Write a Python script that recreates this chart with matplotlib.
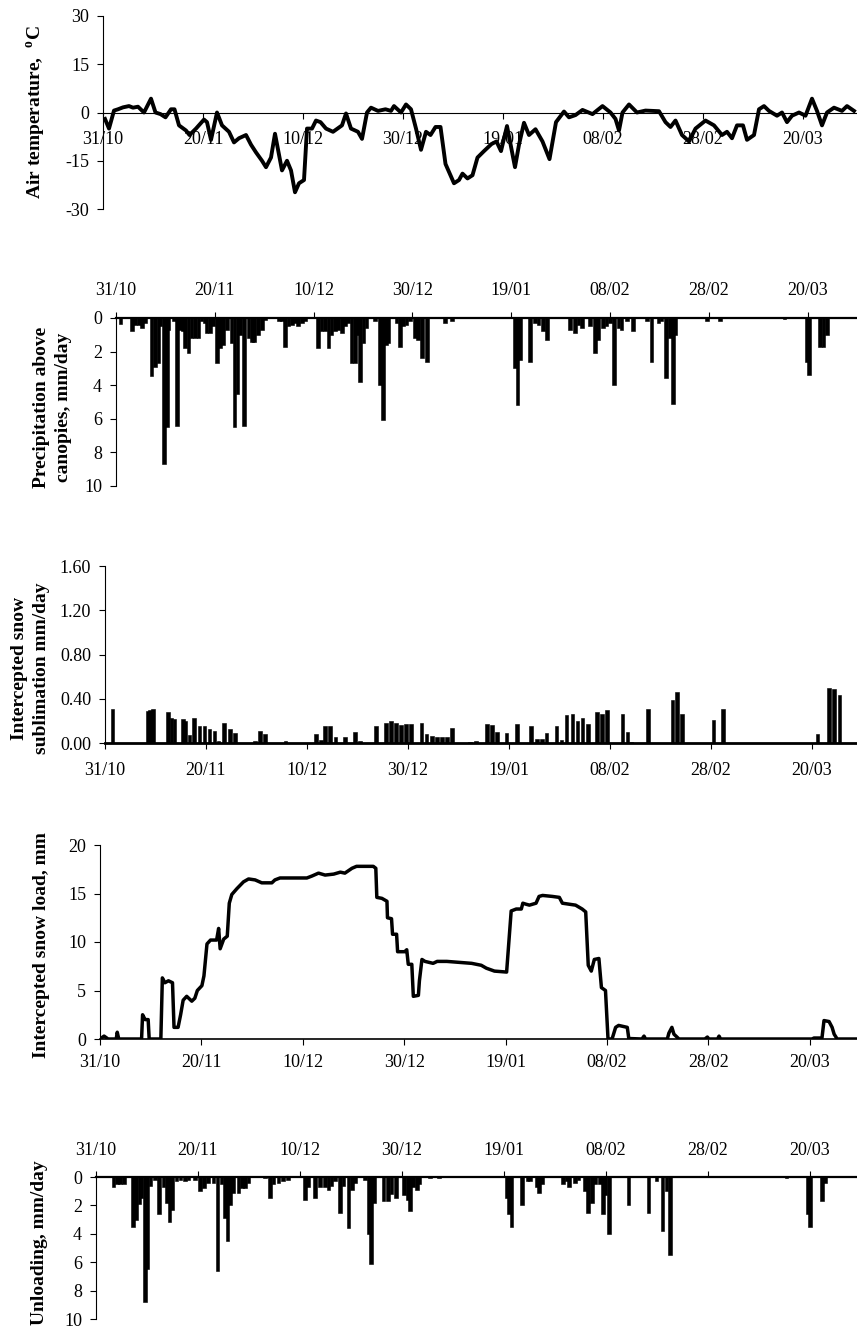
import matplotlib
matplotlib.use("Agg")
import matplotlib.pyplot as plt

plt.rcParams['font.family'] = ['Liberation Serif', 'DejaVu Serif']
plt.rcParams['axes.unicode_minus'] = False
plt.rcParams['mathtext.fontset'] = 'custom'
plt.rcParams['mathtext.rm'] = 'Liberation Serif:bold'

# ---------------- data ----------------
tick_days = [0, 20, 40, 60, 80, 100, 120, 140]
tick_labels = ['31/10', '20/11', '10/12', '30/12', '19/01', '08/02', '28/02', '20/03']

temp_day = [0.4, 1.2, 2.2, 3.0, 4.0, 5.2, 6.0, 7.0, 8.2, 9.6, 10.5, 11.5, 12.5, 13.6, 14.3,
            15.2, 16.6, 17.3, 18.6, 20.2, 20.8, 21.6, 22.8, 23.8, 25.2, 26.2, 27.2, 28.6,
            29.6, 30.6, 31.8, 32.6, 33.6, 34.4, 35.3, 35.8, 36.8, 37.6, 38.4, 39.2, 40.2,
            40.8, 41.8, 42.6, 43.5, 44.6, 46.0, 47.8, 48.6, 49.6, 51.0, 51.8, 52.8, 53.6,
            55.0, 56.5, 57.6, 58.2, 59.6, 60.6, 61.6, 62.6, 63.6, 64.6, 65.5, 66.5, 67.5,
            68.5, 70.2, 71.2, 71.9, 72.9, 73.9, 74.9, 76.2, 77.7, 78.7, 79.6, 80.8, 81.4,
            82.4, 83.2, 84.2, 85.2, 86.5, 87.9, 89.3, 90.6, 92.2, 93.2, 94.5, 95.9, 97.9,
            99.9, 101.5, 102.5, 103.2, 103.9, 105.2, 106.8, 108.5, 111.2, 112.5, 113.5,
            114.5, 115.8, 117.2, 118.5, 120.5, 122.2, 123.8, 124.8, 125.8, 126.8, 128.0,
            128.8, 130.2, 131.2, 132.2, 133.2, 134.8, 135.8, 136.8, 137.8, 139.2, 140.5,
            141.8, 142.8, 143.8, 144.8, 146.2, 147.8, 148.8, 150.2]
temp_val = [-2, -5, 0.6, 1.0, 1.6, 2.0, 1.5, 1.8, 0.0, 4.3, 0.0, -0.5, -1.5, 1.0, 1.0,
            -4.0, -5.6, -7.0, -5.0, -2.2, -3.0, -8.5, 0.0, -4.0, -6.0, -9.3, -8.0, -7.0,
            -10.0, -12.4, -15.0, -17.0, -14.0, -6.6, -14.0, -18.0, -15.0, -18.0, -24.8, -22.0, -21.0,
            -5.0, -5.0, -2.5, -3.0, -5.0, -6.0, -4.0, -0.3, -5.0, -6.0, -8.2, 0.0, 1.5,
            0.5, 1.0, 0.5, 2.0, 0.0, 2.5, 1.0, -5.0, -11.6, -6.0, -7.0, -4.5, -4.5,
            -16, -22, -21, -19, -20.5, -19.5, -14, -12, -9.8, -9, -12, -4.2, -9,
            -17, -10, -3.2, -7, -5.2, -9, -14.5, -3, 0.3, -1.5, -0.8, 0.8, -0.5,
            2.0, 0, -2, -5.6, 0, 2.5, 0, 0.6, 0.4, -3, -4.5,
            -2.5, -7, -9, -5, -2.5, -4, -7, -6, -8, -4, -4,
            -8.5, -7, 1, 2, 0.5, -1, 0, -3, -1, 0, -1,
            4.3, 0.5, -4, 0, 1.5, 0.5, 2, 0.5]

precip_day = [0.9, 3.2, 3.9, 4.6, 5.2, 5.9, 7.2, 7.9, 8.6, 9.0, 9.7, 10.3, 10.6, 11.7, 12.3,
              12.9, 13.5, 14.0, 14.7, 15.3, 16.0, 16.7, 17.3, 18.0, 18.3, 19.0, 19.7, 20.5,
              21.0, 21.6, 22.4, 23.4, 24.0, 24.6, 25.1, 25.9, 26.8, 27.5, 28.0, 28.8, 29.5,
              30.2, 33.0, 33.6, 34.2, 34.9, 35.6, 36.2, 36.9, 37.6, 38.2, 40.9, 41.6, 42.3,
              43.0, 43.6, 44.3, 45.0, 45.7, 46.3, 47.0, 47.7, 48.4, 48.8, 49.4, 50.1, 50.7,
              52.4, 53.4, 54.0, 54.7, 55.1, 56.8, 57.5, 58.1, 58.8, 59.5, 60.5, 61.2, 61.9,
              62.9, 66.6, 68.0, 80.8, 81.3, 81.8, 83.8, 84.8, 85.5, 86.5, 87.2, 91.9, 92.9,
              93.6, 94.4, 95.9, 96.9, 97.6, 98.6, 99.3, 100.0, 100.8, 101.7, 102.3, 103.4,
              104.6, 107.5, 108.4, 109.8, 110.4, 111.4, 112.1, 112.8, 113.2, 119.6, 122.2,
              135.3, 139.8, 140.3, 142.5, 143.2, 143.9]
precip_val = [0.35, 0.75, 0.4, 0.4, 0.6, 0.3, 3.45, 2.9, 2.7, 0.5, 8.7, 6.5, 0.7, 0.2, 6.4,
              0.7, 0.8, 1.8, 2.1, 1.2, 1.2, 1.2, 0.2, 0.3, 0.9, 0.9, 0.5, 2.7,
              1.8, 1.6, 0.7, 1.5, 6.5, 4.5, 1.0, 6.4, 1.2, 1.4, 1.4, 1.0, 0.7,
              0.1, 0.2, 0.2, 1.7, 0.5, 0.4, 0.3, 0.5, 0.3, 0.2, 1.8, 0.8, 0.8,
              1.8, 1.0, 0.8, 0.7, 0.9, 0.5, 0.3, 2.7, 2.7, 1.0, 3.8, 1.5, 0.6,
              0.2, 4.0, 6.1, 1.6, 1.5, 0.3, 1.7, 0.5, 0.4, 0.2, 1.2, 1.3, 2.4,
              2.6, 0.3, 0.2, 3.0, 5.2, 2.5, 2.6, 0.3, 0.4, 0.8, 1.3, 0.7, 0.9,
              0.4, 0.6, 0.5, 2.1, 1.3, 0.6, 0.5, 0.3, 4.0, 0.6, 0.7, 0.2,
              0.8, 0.2, 2.6, 0.3, 0.2, 3.6, 1.2, 5.1, 1.0, 0.2, 0.2,
              0.05, 2.6, 3.4, 1.7, 1.7, 1.0]

subl_day = [1.5, 8.5, 8.9, 9.5, 12.5, 13.2, 13.8, 15.4, 15.8, 16.7, 17.6, 18.7, 19.7, 20.7,
            21.7, 22.5, 23.6, 24.8, 25.7, 29.7, 30.7, 31.7, 35.7, 41.8, 42.8, 43.6, 44.6,
            45.6, 47.5, 49.5, 50.5, 53.7, 55.6, 56.6, 57.6, 58.6, 59.6, 60.6, 62.7, 63.7,
            64.7, 65.7, 66.7, 67.7, 68.7, 72.3, 73.5, 75.6, 76.6, 77.6, 79.5, 81.6, 84.4,
            85.5, 86.5, 87.4, 89.4, 90.4, 91.4, 92.6, 93.6, 94.6, 95.6, 97.4, 98.4, 99.4,
            102.5, 103.5, 104.3, 107.5, 112.4, 113.3, 114.3, 120.5, 122.4, 141.1, 143.4,
            144.4, 145.4]
subl_val = [0.31, 0.29, 0.30, 0.31, 0.28, 0.23, 0.22, 0.22, 0.20, 0.07, 0.23, 0.15, 0.15, 0.13,
            0.11, 0.02, 0.18, 0.13, 0.09, 0.02, 0.11, 0.08, 0.02, 0.08, 0.03, 0.15, 0.15,
            0.05, 0.05, 0.10, 0.02, 0.15, 0.18, 0.20, 0.18, 0.16, 0.17, 0.17, 0.18, 0.08,
            0.06, 0.05, 0.05, 0.05, 0.14, 0.01, 0.02, 0.17, 0.16, 0.10, 0.09, 0.17, 0.15,
            0.04, 0.04, 0.09, 0.15, 0.03, 0.25, 0.26, 0.20, 0.23, 0.17, 0.28, 0.26, 0.30,
            0.26, 0.10, 0.01, 0.31, 0.39, 0.46, 0.26, 0.21, 0.31, 0.08, 0.50,
            0.49, 0.43]

load_day = [0, 0.8, 1.6, 3.2, 3.4, 3.7, 8.2, 8.4, 8.9, 9.5, 9.7, 12.0, 12.3, 12.8, 13.5, 14.3,
            14.6, 15.4, 15.9, 16.4, 17.1, 18.1, 18.7, 19.2, 20.1, 20.5, 21.1, 21.8, 23.0, 23.4,
            23.7, 24.4, 25.1, 25.5, 26.0, 27.0, 28.3, 29.3, 30.6, 31.9, 33.9, 34.5, 35.5, 40.8,
            41.8, 43.1, 44.4, 46.1, 47.4, 48.3, 49.7, 50.6, 53.9, 54.4, 54.6, 55.6, 56.6, 56.7,
            57.5, 57.7, 58.5, 58.7, 60.1, 60.5, 60.8, 61.5, 61.8, 62.8, 63.0, 63.5, 64.1, 65.7,
            66.5, 68.4, 73.3, 75.2, 76.2, 77.8, 80.2, 80.8, 81.1, 82.1, 83.1, 83.4, 84.0, 84.7,
            86.0, 86.6, 87.3, 89.2, 90.6, 91.2, 92.5, 93.8, 95.1, 95.8, 96.3, 96.9, 97.5, 98.4,
            98.9, 99.7, 100.2, 101.0, 101.7, 102.3, 104.0, 104.3, 106.9, 107.3, 107.6, 111.9,
            112.2, 112.8, 113.2, 113.8, 114.2, 119.3, 119.8, 120.1, 121.8, 122.1, 122.4, 140.5,
            140.8, 142.4, 142.8, 143.8, 144.4, 144.8, 145.4, 149.3]
load_val = [0, 0.3, 0, 0, 0.7, 0, 0, 2.5, 2.0, 2.0, 0, 0, 6.3, 5.8, 6.0, 5.8,
            1.2, 1.2, 2.5, 4.0, 4.4, 3.9, 4.2, 5.0, 5.5, 6.5, 9.8, 10.2, 10.2, 11.4,
            9.3, 10.3, 10.6, 14.0, 14.9, 15.5, 16.2, 16.5, 16.4, 16.1, 16.1, 16.4, 16.6, 16.6,
            16.8, 17.1, 16.9, 17.0, 17.2, 17.1, 17.6, 17.8, 17.8, 17.6, 14.6, 14.5, 14.2, 12.5,
            12.4, 10.8, 10.8, 9.0, 9.0, 9.2, 7.7, 7.7, 4.4, 4.5, 6.0, 8.2, 8.0, 7.8,
            8.0, 8.0, 7.8, 7.6, 7.3, 7.0, 6.9, 11.0, 13.2, 13.4, 13.4, 14.0, 13.9, 13.8,
            14.0, 14.7, 14.8, 14.7, 14.6, 14.0, 13.9, 13.8, 13.4, 13.1, 7.6, 7.0, 8.2, 8.3,
            5.3, 5.0, 0, 0, 1.2, 1.4, 1.2, 0.05, 0, 0.3, 0, 0,
            0.6, 1.2, 0.5, 0.2, 0, 0, 0.2, 0, 0, 0.3, 0, 0,
            0.1, 0.1, 1.9, 1.8, 1.2, 0.5, 0, 0]

unload_day = [3.4, 4.1, 4.7, 5.5, 7.2, 7.8, 8.5, 8.9, 9.6, 10.1, 10.7, 11.6, 12.4, 13.2, 13.9,
              14.4, 14.9, 15.8, 16.6, 17.5, 18.1, 19.4, 20.4, 21.2, 22.0, 23.0, 23.8, 24.6,
              25.3, 25.8, 26.3, 26.9, 27.9, 28.6, 29.2, 29.9, 33.1, 34.1, 34.8, 35.8, 36.7,
              37.7, 41.0, 41.6, 42.9, 43.9, 44.9, 45.6, 46.2, 46.9, 47.8, 48.5, 49.5, 50.2,
              50.8, 52.8, 53.4, 53.9, 54.5, 56.4, 57.3, 57.9, 58.8, 60.4, 61.1, 61.6, 62.2,
              62.9, 63.4, 65.5, 67.2, 80.5, 81.0, 81.5, 83.5, 84.6, 85.1, 86.4, 86.9, 87.4,
              91.6, 92.3, 92.8, 93.9, 94.6, 95.9, 96.5, 97.2, 97.8, 98.8, 99.4, 99.8, 100.6,
              104.4, 108.3, 109.9, 111.1, 111.9, 112.5, 135.4, 139.6, 140.0, 142.3, 142.9]
unload_val = [0.7, 0.5, 0.5, 0.5, 3.5, 3.0, 1.9, 1.5, 8.8, 6.5, 0.6, 0.2, 2.6, 0.7, 1.8,
              3.2, 2.3, 0.3, 0.2, 0.3, 0.2, 0.2, 1.0, 0.8, 0.4, 0.4, 6.6, 0.5,
              2.9, 4.5, 2.0, 1.1, 1.1, 0.8, 0.8, 0.4, 0.1, 1.5, 0.5, 0.4, 0.3,
              0.2, 1.6, 0.7, 1.5, 0.7, 0.7, 0.9, 0.6, 0.3, 2.5, 0.6, 3.6, 0.9,
              0.4, 0.2, 4.0, 6.1, 1.8, 1.7, 1.7, 1.2, 1.5, 1.3, 1.6, 2.4, 0.7,
              0.9, 0.5, 0.1, 0.1, 1.5, 2.6, 3.5, 2.0, 0.3, 0.3, 0.7, 1.1, 0.5,
              0.5, 0.3, 0.7, 0.4, 0.2, 1.0, 2.5, 1.8, 0.5, 0.5, 2.6, 1.3, 4.0,
              2.0, 2.5, 0.3, 3.8, 1.0, 5.5, 0.1, 2.6, 3.5, 1.7, 0.4]

# ---------------- layout ----------------
W, H = 857, 1331
fig = plt.figure(figsize=(W / 100, H / 100), dpi=100)
fig.patch.set_facecolor('white')


def make_ax(left, top, bottom, px_per_day):
    ax = fig.add_axes([left / W, 1 - bottom / H, (W - left) / W, (bottom - top) / H])
    ax.set_xlim(0, (W - left) / px_per_day)
    ax.set_facecolor('none')
    return ax


TICK_FS = 13
LAB_FS = 14


def style_common(ax):
    ax.tick_params(axis='y', direction='out', length=4, width=0.8, pad=6, labelsize=TICK_FS)
    ax.tick_params(axis='x', direction='out', length=4, width=0.8, labelsize=TICK_FS)
    ax.set_xticks(tick_days)
    ax.set_xticklabels(tick_labels)
    ax.spines['right'].set_visible(False)
    for s in ax.spines.values():
        s.set_linewidth(0.8)


# Panel 1: air temperature
ax1 = make_ax(103, 16, 209, 5.0)
style_common(ax1)
ax1.plot(temp_day, temp_val, color='black', lw=2.8, solid_joinstyle='round')
ax1.set_ylim(-30, 30)
ax1.set_yticks([-30, -15, 0, 15, 30])
ax1.spines['top'].set_visible(False)
ax1.spines['bottom'].set_position(('data', 0))
ax1.tick_params(axis='x', pad=9)
ax1.set_ylabel(r'Air temperature,  $^{\rm o}$C', fontsize=LAB_FS, fontweight='bold')
ax1.yaxis.set_label_coords(-0.073, 0.5)

# Panel 2: precipitation
ax2 = make_ax(116, 318, 486, 4.94)
style_common(ax2)
ax2.bar(precip_day, precip_val, width=0.75, color='black', edgecolor='black', linewidth=0.4)
ax2.set_ylim(10, 0)
ax2.set_yticks([0, 2, 4, 6, 8, 10])
ax2.xaxis.tick_top()
ax2.spines['bottom'].set_visible(False)
ax2.spines['top'].set_linewidth(1.6)
ax2.tick_params(axis='x', pad=10)
ax2.set_ylabel('Precipitation above\ncanopies, mm/day', fontsize=LAB_FS, fontweight='bold',
               linespacing=1.4)
ax2.yaxis.set_label_coords(-0.059, 0.47)

# Panel 3: sublimation
ax3 = make_ax(105, 566, 743, 5.05)
style_common(ax3)
ax3.bar(subl_day, subl_val, width=0.7, color='black', edgecolor='black', linewidth=0.4)
ax3.set_ylim(0, 1.6)
ax3.set_yticks([0, 0.4, 0.8, 1.2, 1.6])
ax3.set_yticklabels(['0.00', '0.40', '0.80', '1.20', '1.60'])
ax3.spines['top'].set_visible(False)
ax3.spines['bottom'].set_linewidth(2.0)
ax3.tick_params(axis='x', pad=10)
ax3.set_ylabel('Intercepted snow\nsublimation mm/day', fontsize=LAB_FS, fontweight='bold',
               linespacing=1.4)
ax3.yaxis.set_label_coords(-0.073, 0.42)

# Panel 4: intercepted snow load
ax4 = make_ax(100, 845, 1039, 5.07)
style_common(ax4)
ax4.plot(load_day, load_val, color='black', lw=2.5, solid_joinstyle='round')
ax4.set_ylim(0, 20)
ax4.set_yticks([0, 5, 10, 15, 20])
ax4.spines['top'].set_visible(False)
ax4.spines['bottom'].set_linewidth(1.2)
ax4.tick_params(axis='x', pad=7)
ax4.set_ylabel('Intercepted snow load, mm', fontsize=LAB_FS, fontweight='bold')
ax4.yaxis.set_label_coords(-0.066, 0.485)

# Panel 5: unloading
ax5 = make_ax(96, 1177, 1319, 5.1)
style_common(ax5)
ax5.bar(unload_day, unload_val, width=0.7, color='black', edgecolor='black', linewidth=0.4)
ax5.set_ylim(10, 0)
ax5.set_yticks([0, 2, 4, 6, 8, 10])
ax5.xaxis.tick_top()
ax5.spines['bottom'].set_visible(False)
ax5.spines['top'].set_linewidth(1.6)
ax5.tick_params(axis='x', pad=9)
ax5.set_ylabel('Unloading, mm/day', fontsize=LAB_FS, fontweight='bold')
ax5.yaxis.set_label_coords(-0.063, 0.54)

fig.savefig('out.png', dpi=100, facecolor='white')
